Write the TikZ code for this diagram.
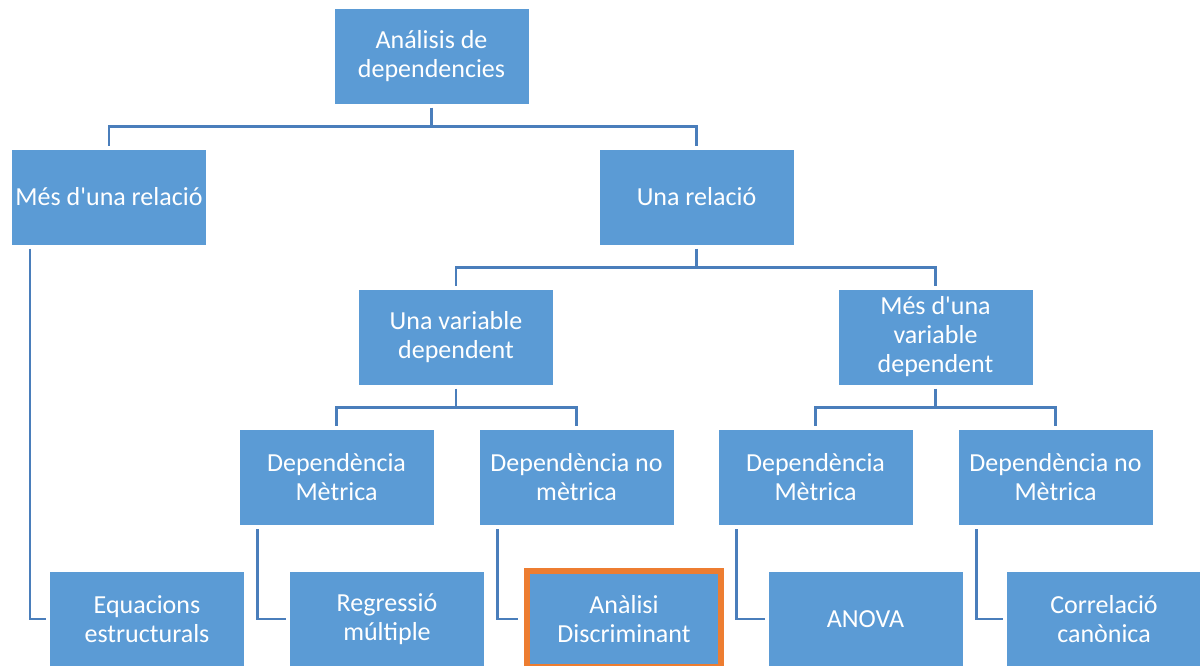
\documentclass[tikz,border=0pt]{standalone}
\usepackage{fontspec}
\setmainfont{Carlito}[Ligatures=TeXOff]
\usetikzlibrary{calc}
\definecolor{boxblue}{HTML}{5B9BD5}
\definecolor{linkblue}{HTML}{4A7EBB}
\definecolor{hlorange}{HTML}{ED7D31}
\begin{document}
\begin{tikzpicture}[x=1pt,y=-1pt,
  box/.style={rectangle, fill=boxblue, draw=white, line width=1pt,
    minimum width=195pt, minimum height=96pt, inner sep=2pt,
    text=white, align=center, font=\fontsize{26}{29}\selectfont},
  link/.style={draw=linkblue, line width=2.6pt, shorten <=3pt, shorten >=3pt},
  hl/.style={draw=hlorange, line width=6pt}]
\clip (0,0) rectangle (1200,665);
\useasboundingbox (0,0) rectangle (1200,665);
% level 0
\node[box] (root) at (431.5,56) {Análisis de\\dependencies};
% level 1
\node[box] (mes) at (109,197) {Més d'una relació};
\node[box] (una) at (696.5,197) {Una relació};
% level 2
\node[box] (uvd) at (456,337) {Una variable\\dependent};
\node[box] (mvd) at (935.5,337) {Més d'una\\variable\\dependent};
% level 3
\node[box] (dm1) at (336.5,477.5) {Dependència\\Mètrica};
\node[box] (dnm1) at (576.5,477.5) {Dependència no\\mètrica};
\node[box] (dm2) at (815.5,477.5) {Dependència\\Mètrica};
\node[box] (dnm2) at (1055.5,477.5) {Dependència no\\Mètrica};
% level 4
\node[box] (eq) at (147,619) {Equacions\\estructurals};
\node[box] (reg) at (387,619) {Regressió\\múltiple};
\node[box, hl, minimum width=194pt] (ad) at (624,619) {Anàlisi\\Discriminant};
\node[box] (anova) at (865.5,619) {ANOVA};
\node[box] (cor) at (1104,619) {Correlació\\canònica};
% bus connectors
\coordinate (b0) at ($(root.south)+(0,22)$);
\draw[link, shorten >=0pt] (root.south) -- (b0);
\draw[link, shorten <=0pt] (b0) -| (mes.north);
\draw[link, shorten <=0pt] (b0) -| (una.north);
\coordinate (b1) at ($(una.south)+(0,22)$);
\draw[link, shorten >=0pt] (una.south) -- (b1);
\draw[link, shorten <=0pt] (b1) -| (uvd.north);
\draw[link, shorten <=0pt] (b1) -| (mvd.north);
\coordinate (b2) at ($(uvd.south)+(0,22)$);
\draw[link, shorten >=0pt] (uvd.south) -- (b2);
\draw[link, shorten <=0pt] (b2) -| (dm1.north);
\draw[link, shorten <=0pt] (b2) -| (dnm1.north);
\coordinate (b3) at ($(mvd.south)+(0,22)$);
\draw[link, shorten >=0pt] (mvd.south) -- (b3);
\draw[link, shorten <=0pt] (b3) -| (dm2.north);
\draw[link, shorten <=0pt] (b3) -| (dnm2.north);
% elbow connectors
\draw[link] ($(mes.south west)+(19,0)$) |- (eq.west);
\draw[link] ($(dm1.south west)+(19,0)$) |- (reg.west);
\draw[link, shorten >=6pt] ($(dnm1.south west)+(19,0)$) |- (ad.west);
\draw[link] ($(dm2.south west)+(19,0)$) |- (anova.west);
\draw[link] ($(dnm2.south west)+(19,0)$) |- (cor.west);
\end{tikzpicture}
\end{document}
